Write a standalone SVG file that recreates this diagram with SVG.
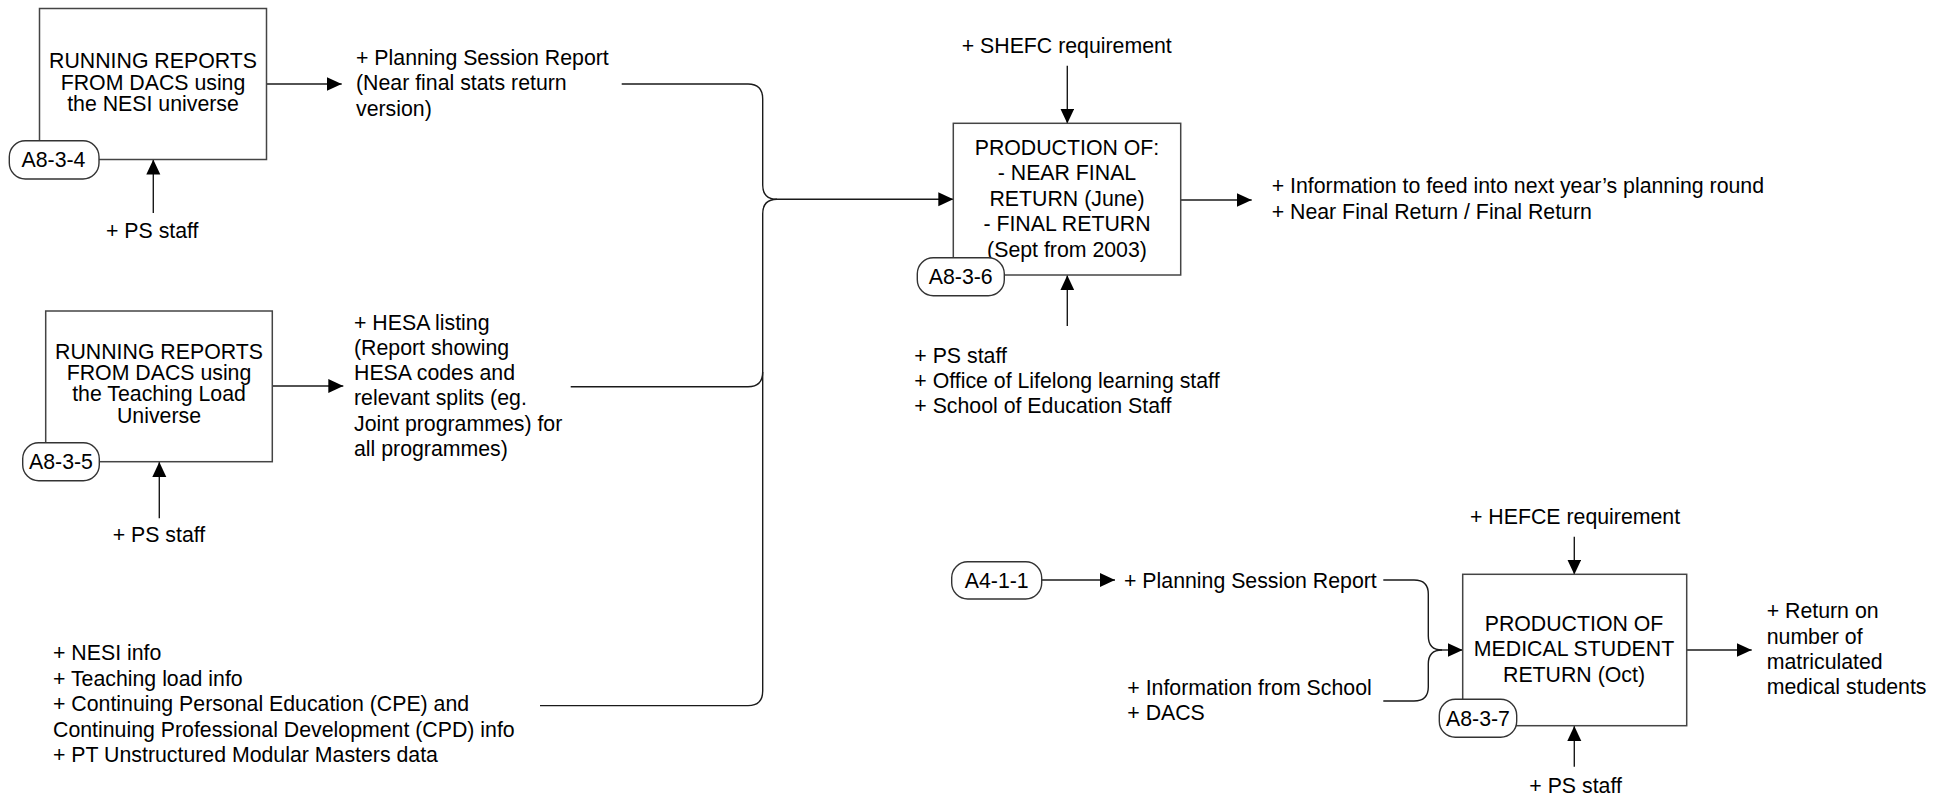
<svg xmlns="http://www.w3.org/2000/svg" width="1948" height="799" viewBox="0 0 1948 799">
<defs>
<marker id="arr" markerUnits="userSpaceOnUse" markerWidth="16" markerHeight="16" refX="15" refY="7" orient="auto">
<path d="M0,0 L15,7 L0,14 z" fill="#000"/>
</marker>
<style>
text{font-family:"Liberation Sans",Arial,sans-serif;font-size:21.3px;fill:#000}
.c{text-anchor:middle}
.box{fill:#fff;stroke:#444;stroke-width:1.5}
.tag{fill:#fff;stroke:#333;stroke-width:1.4}
.ln{fill:none;stroke:#1a1a1a;stroke-width:1.4}
.ar{fill:none;stroke:#1a1a1a;stroke-width:1.4;marker-end:url(#arr)}
</style>
</defs>
<rect width="1948" height="799" fill="#fff"/>

<g id="connectors">
<path class="ar" d="M266.7,84 H341.7"/>
<path class="ar" d="M153.3,213 V159.5"/>
<path class="ar" d="M272.3,386 H343.3"/>
<path class="ar" d="M159.3,518.3 V462"/>
<path class="ln" d="M621.7,84 H748 Q762.7,84 762.7,99 V185 Q762.7,199.3 777,199.3"/>
<path class="ln" d="M570.7,386.7 H748 Q762.7,386.7 762.7,372 V214 Q762.7,199.3 777,199.3"/>
<path class="ln" d="M540,705.6 H748 Q762.7,705.6 762.7,691 V372"/>
<path class="ar" d="M777,199.3 H953.3"/>
<path class="ar" d="M1067.3,65.7 V123.5"/>
<path class="ar" d="M1067.3,326 V275.3"/>
<path class="ar" d="M1180.7,200 H1251.7"/>
<path class="ar" d="M1041.7,580 H1115"/>
<path class="ln" d="M1383.3,580 H1414 Q1428.3,580 1428.3,594 V636 Q1428.3,650 1442,650"/>
<path class="ln" d="M1383.3,701 H1414 Q1428.3,701 1428.3,687 V664 Q1428.3,650 1442,650"/>
<path class="ar" d="M1442,650 H1462.7"/>
<path class="ar" d="M1574.3,536.7 V574.5"/>
<path class="ar" d="M1574.3,766.7 V726"/>
<path class="ar" d="M1686.7,650 H1751.7"/>
</g>

<g id="node-a834">
<rect class="box" x="39.5" y="8.5" width="227" height="151"/>
<text class="c" x="153" y="68.3">RUNNING REPORTS</text>
<text class="c" x="153" y="89.8">FROM DACS using</text>
<text class="c" x="153" y="111.3">the NESI universe</text>
<rect class="tag" x="9.3" y="140.7" width="89.7" height="38.3" rx="16"/>
<text class="c" x="53.5" y="167">A8-3-4</text>
</g>

<g id="node-a835">
<rect class="box" x="45.7" y="311" width="226.6" height="150.7"/>
<text class="c" x="159" y="358.5">RUNNING REPORTS</text>
<text class="c" x="159" y="379.9">FROM DACS using</text>
<text class="c" x="159" y="401.3">the Teaching Load</text>
<text class="c" x="159" y="422.7">Universe</text>
<rect class="tag" x="22.7" y="442.7" width="76.6" height="38" rx="16"/>
<text class="c" x="61" y="469.3">A8-3-5</text>
</g>

<g id="node-a836">
<rect class="box" x="953.3" y="123.3" width="227.4" height="151.7"/>
<text class="c" x="1067" y="154.5">PRODUCTION OF:</text>
<text class="c" x="1067" y="180.1">- NEAR FINAL</text>
<text class="c" x="1067" y="205.7">RETURN (June)</text>
<text class="c" x="1067" y="231.3">- FINAL RETURN</text>
<text class="c" x="1067" y="256.9">(Sept from 2003)</text>
<rect class="tag" x="917.3" y="257.7" width="87" height="38" rx="16"/>
<text class="c" x="960.7" y="284">A8-3-6</text>
</g>

<g id="node-a837">
<rect class="box" x="1462.7" y="574.3" width="224" height="151.4"/>
<text class="c" x="1574" y="631">PRODUCTION OF</text>
<text class="c" x="1574" y="656.4">MEDICAL STUDENT</text>
<text class="c" x="1574" y="681.8">RETURN (Oct)</text>
<rect class="tag" x="1439.3" y="699.3" width="77.4" height="38" rx="16"/>
<text class="c" x="1478" y="725.8">A8-3-7</text>
</g>

<g id="node-a411">
<rect class="tag" x="951.7" y="561.7" width="90" height="37.3" rx="16"/>
<text class="c" x="996.7" y="587.5">A4-1-1</text>
</g>

<g id="labels">
<text x="356" y="65">+ Planning Session Report</text>
<text x="356" y="90.3">(Near final stats return</text>
<text x="356" y="115.6">version)</text>
<text x="106" y="238.3">+ PS staff</text>
<text x="354" y="329.5">+ HESA listing</text>
<text x="354" y="354.8">(Report showing</text>
<text x="354" y="380">HESA codes and</text>
<text x="354" y="405.3">relevant splits (eg.</text>
<text x="354" y="430.5">Joint programmes) for</text>
<text x="354" y="455.8">all programmes)</text>
<text x="112.7" y="541.7">+ PS staff</text>
<text x="53" y="660">+ NESI info</text>
<text x="53" y="685.5">+ Teaching load info</text>
<text x="53" y="711">+ Continuing Personal Education (CPE) and</text>
<text x="53" y="736.5">Continuing Professional Development (CPD) info</text>
<text x="53" y="762">+ PT Unstructured Modular Masters data</text>
<text x="961.7" y="53.3">+ SHEFC requirement</text>
<text x="1271.7" y="193.3">+ Information to feed into next year’s planning round</text>
<text x="1271.7" y="218.5">+ Near Final Return / Final Return</text>
<text x="914.3" y="362.7">+ PS staff</text>
<text x="914.3" y="388">+ Office of Lifelong learning staff</text>
<text x="914.3" y="413.3">+ School of Education Staff</text>
<text x="1124" y="587.5">+ Planning Session Report</text>
<text x="1127.3" y="695">+ Information from School</text>
<text x="1127.3" y="720.2">+ DACS</text>
<text x="1470" y="524">+ HEFCE requirement</text>
<text x="1766.7" y="618.3">+ Return on</text>
<text x="1766.7" y="643.6">number of</text>
<text x="1766.7" y="669">matriculated</text>
<text x="1766.7" y="694.3">medical students</text>
<text x="1529.3" y="792.7">+ PS staff</text>
</g>
</svg>
